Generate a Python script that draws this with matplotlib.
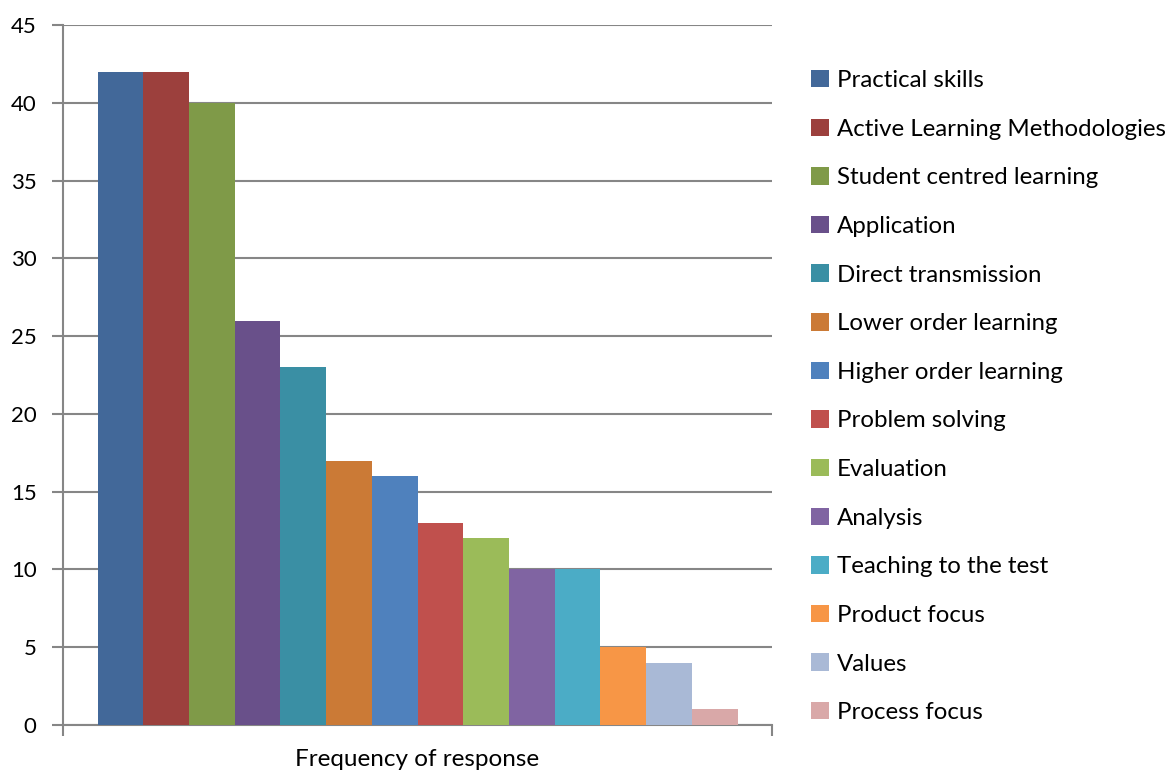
import matplotlib.pyplot as plt
import numpy as np

categories = ["Practical skills", "Active Learning Methodologies", "Student centred learning",
              "Application", "Direct transmission", "Lower order learning",
              "Higher order learning", "Problem solving", "Evaluation", "Analysis",
              "Teaching to the test", "Product focus", "Values", "Process focus"]
values = [42, 42, 40, 26, 23, 17, 16, 13, 12, 10, 10, 5, 4, 1]
colors = ["#426899", "#9C403D", "#7F9A48", "#69508A", "#3A8FA4", "#CB7A36",
          "#4F81BD", "#C0504D", "#9BBB59", "#8064A2", "#4BACC6", "#F79646",
          "#A9B9D6", "#D9A8A8"]
group_label = "Frequency of response"

plt.rcParams['font.family'] = ['Lato', 'DejaVu Sans']
grey = "#868686"

fig = plt.figure(figsize=(11.75, 7.71), dpi=100)
ax = fig.add_axes([63 / 1175, 1 - 725 / 771, 709 / 1175, 700 / 771])

n = len(values)
group_w = 640 / 709
w = group_w / n
start = (1 - group_w) / 2
for i, (v, c, lab) in enumerate(zip(values, colors, categories)):
    ax.bar(start + w * (i + 0.5), v, width=w, color=c, label=lab, zorder=3)

ax.set_xlim(0, 1)
ax.set_ylim(0, 45)
ax.set_yticks(np.arange(0, 46, 5))
ax.yaxis.grid(True, color=grey, linewidth=1.5, zorder=0)
ax.set_xticks([0, 1])
ax.set_xticklabels(["", ""])
ax.tick_params(axis='x', length=8, width=1.5, color=grey, direction='out')
ax.tick_params(axis='y', length=8, width=1.5, color=grey, direction='out',
               labelsize=16, pad=11)
for s in ['top', 'right']:
    ax.spines[s].set_visible(False)
for s in ['left', 'bottom']:
    ax.spines[s].set_color(grey)
    ax.spines[s].set_linewidth(1.5)
ax.text(0.5, -35 / 700, group_label, transform=ax.transAxes, fontsize=17.5,
        ha='center', va='center')

leg = ax.legend(loc='upper left', bbox_to_anchor=(748 / 709, 1 - 45 / 700),
                frameon=False, fontsize=17.3, handlelength=0.74, handleheight=0.74,
                handletextpad=0.35, labelspacing=1.145, borderaxespad=0, borderpad=0)

fig.savefig("out.png", dpi=100)
